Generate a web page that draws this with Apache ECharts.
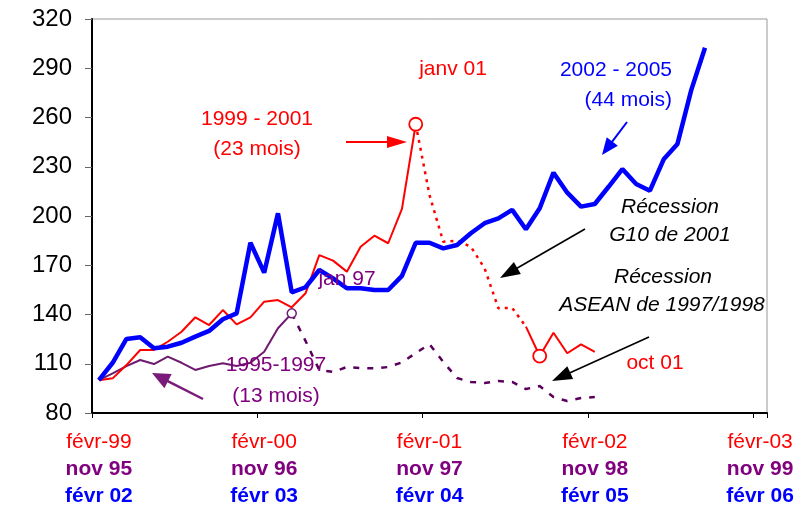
<!DOCTYPE html>
<html>
<head>
<meta charset="utf-8">
<script src="https://cdn.jsdelivr.net/npm/echarts@6/dist/echarts.min.js"></script>
<style>
html,body{margin:0;padding:0;background:#fff;}
#c{width:809px;height:507px;}
</style>
</head>
<body>
<div id="c"></div>
<script>
// ---- Data ----
const moisFr = ['janv','févr','mars','avr','mai','juin','juil','août','sept','oct','nov','déc'];
const nMonths = 49;
const categories = [];
for (let i = 0; i < nMonths; i++) {
  const m = (1 + i) % 12;
  const y = (99 + Math.floor((1 + i) / 12)) % 100;
  categories.push(moisFr[m] + '-' + String(y).padStart(2, '0'));
}
const redTicks = ['févr-99', 'févr-00', 'févr-01', 'févr-02', 'févr-03'];
const purpleTicks = ['nov 95', 'nov 96', 'nov 97', 'nov 98', 'nov 99'];
const blueTicks = ['févr 02', 'févr 03', 'févr 04', 'févr 05', 'févr 06'];

// 1999 - 2001 (red), index 0 = févr-99
const redValues = [100, 101.1, 109.2, 118.4, 118.4, 123.4, 129.5, 138.3, 133.6, 142.7,
  134.0, 138.3, 147.8, 148.8, 144.4, 152.9, 176.2, 172.8, 166.1, 181.3,
  188.0, 183.4, 204.3, 255.9, 212.8, 184.3, 185.0, 181.3, 168.1, 143.8,
  144.0, 132.6, 114.7, 128.9, 116.4, 121.8, 117.3];
const redPeakIndex = 23;     // janv 01
const redTroughIndex = 32;   // oct 01
const redRecessionEnd = 31;

// 2002 - 2005 (blue), index 0 = févr 02
const blueValues = [100, 110.6, 125.1, 126.1, 119.4, 120.4, 122.8, 126.5, 130.0, 137.1,
  140.7, 183.7, 165.5, 201.6, 153.5, 156.6, 167.1, 162.0, 156.0, 156.0,
  154.9, 154.9, 163.5, 183.7, 183.7, 180.3, 182.3, 189.5, 195.6, 198.6,
  203.7, 191.9, 204.7, 226.4, 214.2, 205.7, 207.3, 217.8, 228.6, 219.5,
  215.4, 234.5, 243.9, 276.7, 302.5];

// 1995 - 1997 (purple), index 0 = nov 95
const purpleValues = [100, 104.2, 108.6, 112.3, 109.8, 114.3, 110.6, 106.2, 108.6, 110.3,
  108.6, 110.6, 117.3, 131.6, 140.7, 123.9, 106.2, 105.0, 108.0, 107.4,
  107.2, 108.0, 110.8, 116.5, 122.0, 111.1, 101.3, 98.9, 98.3, 99.5,
  98.9, 94.6, 96.4, 89.7, 87.3, 89.1, 89.7];
const purplePeakIndex = 14;  // jan 97

// ---- Chart ----
const FONT = 'Liberation Sans, Arial, sans-serif';
const RED = '#ff0000', BLUE = '#0000ff', PURPLE = '#800080';

function arrow(x1, y1, x2, y2, color, w, L, H) {
  const dx = x2 - x1, dy = y2 - y1, len = Math.hypot(dx, dy);
  const ux = dx / len, uy = dy / len;
  const bx = x2 - ux * L, by = y2 - uy * L;
  const px = -uy, py = ux;
  return [
    {type: 'line', silent: true, z: 100, shape: {x1: x1, y1: y1, x2: bx + ux * 2, y2: by + uy * 2}, style: {stroke: color, lineWidth: w}},
    {type: 'polygon', silent: true, z: 100, shape: {points: [[x2, y2], [bx + px * H, by + py * H], [bx - px * H, by - py * H]]}, style: {fill: color}}
  ];
}
function txt(s, x, y, color, opts) {
  opts = opts || {};
  return {
    type: 'text', silent: true, z: 100,
    style: {
      text: s, x: x, y: y, fill: color,
      fontSize: opts.size || 21, fontFamily: FONT,
      fontStyle: opts.italic ? 'italic' : 'normal',
      fontWeight: opts.bold ? 'bold' : 'normal',
      align: opts.align || 'center', verticalAlign: 'middle'
    }
  };
}

const graphics = [].concat(
  [txt('janv 01', 453, 69, RED)],
  [txt('1999 - 2001', 257, 119, RED), txt('(23 mois)', 257, 149, RED)],
  arrow(346, 142, 407, 142, RED, 2, 20, 6),
  [txt('2002 - 2005', 672, 70, BLUE, {align: 'right'}), txt('(44 mois)', 672, 100, BLUE, {align: 'right'})],
  arrow(627, 122, 602, 155, BLUE, 2, 17, 7),
  [txt('Récession', 670, 207, '#000', {italic: true}), txt('G10 de 2001', 670, 235, '#000', {italic: true})],
  arrow(585, 229, 500, 278, '#000', 1.6, 20, 7),
  [txt('Récession', 663, 277, '#000', {italic: true}), txt('ASEAN de 1997/1998', 662, 305, '#000', {italic: true})],
  arrow(649, 337, 552, 381, '#000', 1.6, 20, 7),
  [txt('oct 01', 655, 363, RED)],
  [txt('jan 97', 347, 279, PURPLE)],
  [txt('1995-1997', 276, 365, PURPLE), txt('(13 mois)', 276, 396, PURPLE)],
  arrow(203, 399, 152, 373, '#7a1a7a', 2.5, 18, 8)
);

const redSolid = redValues.map((v, i) => (i <= redPeakIndex || i >= redRecessionEnd) ? v : null);
const redDotted = redValues.map((v, i) => (i >= redPeakIndex && i <= redRecessionEnd) ? v : null);
const purpleSolid = purpleValues.map((v, i) => i <= purplePeakIndex ? v : null);
const purpleDashed = purpleValues.map((v, i) => i >= purplePeakIndex ? v : null);

const chart = echarts.init(document.getElementById('c'), null, {renderer: 'canvas'});
chart.setOption({
  animation: false,
  backgroundColor: '#fff',
  grid: {left: 92, right: 42, top: 19, bottom: 94, show: true, borderColor: '#999', borderWidth: 1, backgroundColor: 'transparent'},
  xAxis: {
    type: 'category',
    data: categories,
    boundaryGap: true,
    axisLine: {show: true, onZero: false, lineStyle: {color: '#000', width: 2}},
    axisTick: {show: true, interval: 11, length: 5, lineStyle: {color: '#000', width: 1}},
    axisLabel: {
      interval: 11,
      margin: 16,
      formatter: function (val, idx) {
        const k = idx / 12;
        if (idx % 12 !== 0 || k >= redTicks.length) return '';
        return '{r|' + redTicks[k] + '}\n{p|' + purpleTicks[k] + '}\n{b|' + blueTicks[k] + '}';
      },
      rich: {
        r: {color: RED, fontSize: 21, fontFamily: FONT, lineHeight: 27},
        p: {color: PURPLE, fontSize: 21, fontWeight: 'bold', fontFamily: FONT, lineHeight: 27},
        b: {color: BLUE, fontSize: 21, fontWeight: 'bold', fontFamily: FONT, lineHeight: 27}
      }
    },
    splitLine: {show: false}
  },
  yAxis: {
    type: 'value',
    min: 80, max: 320, interval: 30,
    axisLine: {show: true, lineStyle: {color: '#000', width: 2}},
    axisTick: {show: true, length: 7, lineStyle: {color: '#666', width: 1}},
    axisLabel: {color: '#000', fontSize: 24, fontFamily: FONT, margin: 20},
    splitLine: {show: false}
  },
  series: [
    {type: 'line', data: purpleSolid, symbol: 'none', lineStyle: {color: '#6e1a6e', width: 2}, z: 2},
    {type: 'line', data: purpleDashed, symbol: 'none', lineStyle: {color: '#5a005a', width: 2.5, type: [6, 8]}, z: 2},
    {type: 'line', data: redSolid, symbol: 'none', lineStyle: {color: RED, width: 2}, z: 3},
    {type: 'line', data: redDotted, symbol: 'none', lineStyle: {color: RED, width: 2.5, type: [3, 5]}, z: 3},
    {type: 'line', data: blueValues, symbol: 'none', lineStyle: {color: BLUE, width: 4.5}, z: 4},
    {type: 'scatter', z: 5,
      data: [[redPeakIndex, redValues[redPeakIndex]], [redTroughIndex, redValues[redTroughIndex]]],
      symbol: 'circle', symbolSize: 13,
      itemStyle: {color: '#fff', borderColor: RED, borderWidth: 1.8, opacity: 1}},
    {type: 'scatter', z: 5,
      data: [[purplePeakIndex, purpleValues[purplePeakIndex]]],
      symbol: 'circle', symbolSize: 9,
      itemStyle: {color: '#fff', borderColor: '#6e1a6e', borderWidth: 1.5, opacity: 1}}
  ],
  graphic: graphics
});
</script>
</body>
</html>
